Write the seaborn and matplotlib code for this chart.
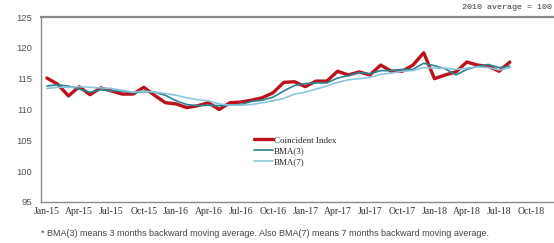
import pandas as pd
import seaborn as sns
import matplotlib.pyplot as plt

# Monthly values, Jan-15 .. Aug-18
months = pd.date_range('2015-01-01', '2018-08-01', freq='MS')
coincident = [115.1, 114.1, 112.2, 113.7, 112.4, 113.5, 113.0, 112.5, 112.5, 113.6, 112.3, 111.1,
              110.9, 110.3, 110.6, 111.1, 110.0, 111.1, 111.2, 111.5, 111.9, 112.7, 114.4, 114.5,
              113.7, 114.6, 114.6, 116.2, 115.6, 116.1, 115.6, 117.2, 116.2, 116.2, 117.2, 119.2,
              115.0, 115.6, 116.1, 117.7, 117.2, 117.0, 116.2, 117.7]
bma3 = [113.8, 114.0, 113.8, 113.3, 112.8, 113.2, 113.0, 113.0, 112.7, 112.9, 112.8, 112.3,
        111.4, 110.8, 110.6, 110.7, 110.6, 110.7, 110.8, 111.3, 111.5, 112.0, 113.0, 113.9,
        114.2, 114.3, 114.3, 115.1, 115.5, 116.0, 115.8, 116.3, 116.3, 116.5, 116.5, 117.5,
        117.1, 116.6, 115.6, 116.5, 117.0, 117.3, 116.8, 117.0]
bma7 = [113.4, 113.6, 113.6, 113.7, 113.6, 113.5, 113.4, 113.1, 112.8, 113.0, 112.8, 112.6,
        112.3, 111.9, 111.6, 111.4, 110.9, 110.7, 110.7, 110.8, 111.1, 111.4, 111.8, 112.5,
        112.8, 113.3, 113.8, 114.4, 114.8, 115.0, 115.2, 115.7, 115.9, 116.2, 116.3, 116.8,
        116.7, 116.7, 116.5, 116.7, 116.9, 116.8, 116.4, 116.8]
tick_labels = ['Jan-15', 'Apr-15', 'Jul-15', 'Oct-15', 'Jan-16', 'Apr-16', 'Jul-16', 'Oct-16',
               'Jan-17', 'Apr-17', 'Jul-17', 'Oct-17', 'Jan-18', 'Apr-18', 'Jul-18', 'Oct-18']

df = pd.DataFrame({'t': range(len(months)), 'ci': coincident, 'b3': bma3, 'b7': bma7})

sns.set_style('white')
plt.rcParams['font.family'] = ['Liberation Serif', 'DejaVu Sans']

fig = plt.figure(figsize=(5.54, 2.43), dpi=100)
ax = fig.add_axes([0.074, 0.169, 0.924, 0.761])

sns.lineplot(data=df, x='t', y='ci', ax=ax, color='#BB111C', linewidth=2.4, label='Coincident Index')
sns.lineplot(data=df, x='t', y='b3', ax=ax, color='#2C8391', linewidth=1.2, label='BMA(3)')
sns.lineplot(data=df, x='t', y='b7', ax=ax, color='#8CC6DD', linewidth=1.2, label='BMA(7)')

ax.set_xlim(-0.55, 47.0)
ax.set_ylim(95, 125)
ax.set_yticks(range(95, 126, 5))
ax.set_xticks(range(0, 46, 3))
ax.set_xticklabels(tick_labels, fontsize=7)
ax.tick_params(axis='y', labelsize=6.8, labelcolor='#555555', length=3, color='#888888', direction='out')
ax.tick_params(axis='x', length=0, pad=4, labelcolor='#333333')
for lab in ax.get_yticklabels():
    lab.set_family(['Liberation Sans', 'DejaVu Sans'])
ax.set_xlabel('')
ax.set_ylabel('')

for s in ['left', 'bottom', 'top']:
    ax.spines[s].set_color('#8a8a8a')
    ax.spines[s].set_linewidth(1.0)
ax.spines['top'].set_linewidth(1.6)
ax.spines['right'].set_visible(False)

ax.legend(loc='upper left', bbox_to_anchor=(0.41, 0.375), frameon=False, fontsize=6.5,
          handlelength=2.0, handletextpad=0.15, labelspacing=0.3, borderaxespad=0)

fig.text(0.997, 0.955, '2010 average = 100', ha='right', va='bottom', fontsize=6,
         family=['Liberation Mono', 'DejaVu Sans Mono'], color='#333333')
fig.text(0.074, 0.04, '* BMA(3) means 3 months backward moving average. Also BMA(7) means 7 months backward moving average.',
         ha='left', va='center', fontsize=6.5, family=['Liberation Sans', 'DejaVu Sans'], color='#444444')

fig.savefig('out.png', dpi=100)
